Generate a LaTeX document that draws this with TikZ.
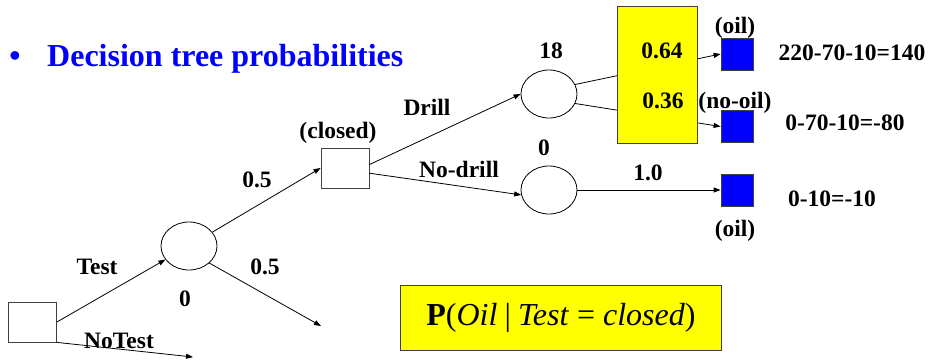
\documentclass[tikz,border=0pt]{standalone}
\usepackage{fontspec}
\setmainfont{Liberation Serif}
\usepackage{tikz}
\usetikzlibrary{arrows.meta,shapes.geometric}
\definecolor{pyellow}{HTML}{FFFF00}
\definecolor{pblue}{HTML}{0000FF}

\begin{document}
\begin{tikzpicture}[x=1pt, y=-1pt,
    lbl/.style={font=\fontsize{23.5}{26}\selectfont\bfseries, anchor=base, inner sep=0pt},
    decide/.style={rectangle, draw=black!75, line width=0.8pt, minimum width=48pt,
      minimum height=40pt, inner sep=0pt},
    chance/.style={ellipse, draw=black, line width=0.8pt, minimum width=56pt,
      minimum height=48pt, inner sep=0pt},
    leaf/.style={rectangle, draw=black!75, line width=0.8pt, fill=pblue,
      minimum size=32pt, inner sep=0pt},
    panel/.style={draw=black!75, line width=0.8pt, fill=pyellow, inner sep=0pt},
    arr/.style={-{Triangle[length=7pt,width=5pt]}, line width=0.8pt}]
\useasboundingbox (0,0) rectangle (930,362);

% heading
\node[anchor=base, inner sep=0pt, text=pblue, font=\fontsize{32}{38}\selectfont\bfseries]
  (bullet) at (15,66.5) {•};
\node[anchor=base west, inner sep=0pt, text=pblue, font=\fontsize{32}{38}\selectfont\bfseries]
  (title) at (47,66.5) {Decision tree probabilities};

% decision and chance nodes
\node[decide] (root) at (32.5,322) {};
\node[chance] (test) at (189,246) {};
\node[decide] (closed) at (345,168) {};
\node[chance] (drill) at (549,94) {};
\node[chance] (nodrill) at (549,190) {};
\foreach \nm/\y in {oil1/54, dry/126.5, oil2/190}
  \node[leaf] (\nm) at (737,\y) {};

% open ends
\coordinate (notest) at (193,357);
\coordinate (open) at (321,326);

% branches
\draw[arr] (root.east) -- (test);
\draw[arr] (root.south east) -- (notest);
\draw[arr] (test) -- (closed.west);
\draw[arr] (test.-40) -- (open);
\draw[arr] (closed.8) -- (drill.west);
\draw[arr] (closed.-12) -- (nodrill.190);
\draw[arr] (drill.20) -- (oil1.west);
\draw[arr] (drill.-20) -- (dry.west);
\draw[arr] (nodrill) -- (oil2);

% probabilities panel sits over the drill branches
\node[panel, minimum width=80pt, minimum height=137pt] (probs) at (657,74.5) {};

% labels
\foreach \nm/\x/\y/\txt in {
    ltest/97/274/Test, lnotest/119/348/NoTest, lzero/185/306/0,
    pup/257/187/0.5, pdown/265/274/0.5, lclosed/338/138/{(closed)},
    ldrill/427/115/Drill, lnodrill/459/177/No-drill,
    vdrill/551/58/18, vnodrill/544/155/0, psure/648/180/1.0,
    poil/662/58/0.64, pdry/663/108/0.36,
    loil1/735/33.5/{(oil)}, ldry/735/108/{(no-oil)}, loil2/735/236/{(oil)},
    v1/852/60/220-70-10=140, v2/845/130/0-70-10=-80, v3/832/206/0-10=-10}
  \node[lbl] (\nm) at (\x,\y) {\txt};

\node[panel, minimum width=321pt, minimum height=65pt, font=\fontsize{32}{36}\selectfont]
  (bayes) at (561,317.5)
  {\textbf{P}(\textit{Oil}\hspace{0.22em}|\hspace{0.22em}\textit{Test} = \textit{closed})};
\end{tikzpicture}
\end{document}
